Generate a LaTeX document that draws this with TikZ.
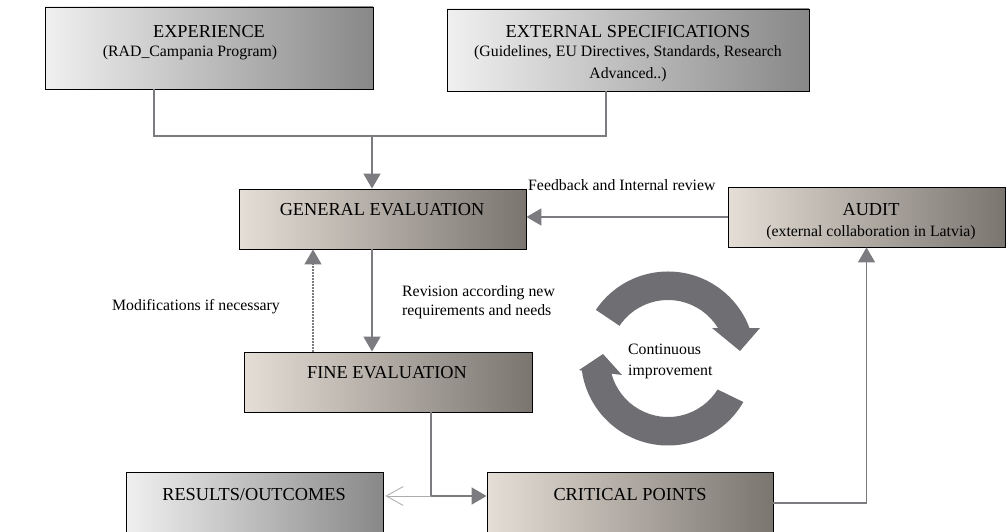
\documentclass[tikz,border=0pt]{standalone}
\usepackage{fontspec}
\setmainfont{Liberation Serif}
\usetikzlibrary{arrows.meta,calc}
\definecolor{gL}{HTML}{F0F0F0}
\definecolor{gR}{HTML}{888888}
\definecolor{wL}{HTML}{E4DED6}
\definecolor{wR}{HTML}{7A756F}
\definecolor{arr}{HTML}{6E6E73}
\definecolor{ln}{HTML}{7C7C80}
\begin{document}
\begin{tikzpicture}[x=1pt,y=1pt,
  box/.style={draw=black, line width=0.9pt, inner sep=0pt},
  graybox/.style={box, left color=gL, right color=gR},
  warmbox/.style={box, left color=wL, right color=wR},
  title/.style={font=\fontsize{18.3}{22}\selectfont, inner sep=0pt},
  sub/.style={font=\fontsize{15.8}{19}\selectfont, inner sep=0pt},
  lbl/.style={font=\fontsize{15.8}{19}\selectfont, inner sep=0pt, anchor=west, align=left},
  conn/.style={draw=ln, line width=1.8pt},
  tip/.style={-{Triangle[width=17pt,length=15pt]}},
]
\path[use as bounding box, fill=white] (0,0) rectangle (1008,531);

% boxes
\node[graybox, minimum width=328pt, minimum height=82pt] (exp) at (209,483) {};
\node[graybox, minimum width=362pt, minimum height=82pt] (ext) at (628,481) {};
\node[warmbox, minimum width=287pt, minimum height=60pt] (ge) at (382.5,312) {};
\node[warmbox, minimum width=277pt, minimum height=60pt] (audit) at (866.5,314) {};
\node[warmbox, minimum width=288pt, minimum height=60pt] (fine) at (388,149) {};
\node[graybox, minimum width=257pt, minimum height=74pt] (res) at (254.5,22) {};
\node[warmbox, minimum width=286pt, minimum height=74pt] (crit) at (630,22) {};

% box texts
\node[title] (expt) at (209,499) {EXPERIENCE};
\node[sub] (exps) at (190,478) {(RAD\_Campania Program)};
\node[title] (extt) at (628,499) {EXTERNAL SPECIFICATIONS};
\node[sub] (exts1) at (628,478) {(Guidelines, EU Directives, Standards, Research};
\node[sub] (exts2) at (628,456) {Advanced..)};
\node[title] (get) at (382,321) {GENERAL EVALUATION};
\node[title] (audt) at (871,321) {AUDIT};
\node[sub] (auds) at (871,298) {(external collaboration in Latvia)};
\node[title] (finet) at (387,158) {FINE EVALUATION};
\node[title] (rest) at (254,36) {RESULTS/OUTCOMES};
\node[title] (critt) at (630,36) {CRITICAL POINTS};

% labels
\node[lbl] (fb) at (528,346) {Feedback and Internal review};
\node[lbl] (mod) at (112,224) {Modifications if necessary};
\node[lbl] (rev) at (402,228.5) {Revision according new\\requirements and needs};
\node[lbl, font=\fontsize{15.8}{21}\selectfont] (ci) at (628,170) {Continuous\\improvement};

% connectors
\coordinate (ja) at (154,395);
\coordinate (jb) at (606,395);
\coordinate (jt) at (372,395);
\draw[conn] (ja |- exp.south) -- (ja) -- (jb) -- (jb |- ext.south);
\draw[conn,tip] (jt) -- (jt |- ge.north);
\draw[conn,tip] (jt |- ge.south) -- (jt |- fine.north);
\coordinate (jd) at (313,0);
\draw[draw=ln, line width=1.3pt, dash pattern=on 1.5pt off 1.5pt, tip] (jd |- fine.north) -- (jd |- ge.south);
\draw[conn,tip] (audit.west) -- (ge.east |- audit.west);
\coordinate (j) at (431,35);
\draw[conn,tip] (j |- fine.south) -- (j) -- (j -| crit.west);
\draw[draw=gray!65, line width=0.8pt, -{Straight Barb[width=19pt,length=17pt]}, shorten >=2pt] (j) -- (j -| res.east);
\coordinate (k) at (867,28);
\draw[conn, line width=1.5pt, tip] (crit.east |- k) -| (audit.south);

% continuous improvement ring
\coordinate (C) at (668,172.5);
\fill[arr] ($(C)+(146:87)$) arc[start angle=146, end angle=20.5, radius=87]
  -- ($(C)+(92,30.5)$) -- ($(C)+(72,7.5)$) -- ($(C)+(44,30.5)$)
  -- ($(C)+(31.4:58.5)$) arc[start angle=31.4, end angle=146, radius=58.5] -- cycle;
\fill[arr] ($(C)+(-30:87)$) arc[start angle=-30, end angle=-172, radius=87]
  -- ($(C)+(-89,-11.5)$) -- ($(C)+(-65,4.5)$) -- ($(C)+(-46,-16.5)$)
  -- ($(C)+(-165:58.5)$) arc[start angle=-165, end angle=-32, radius=58.5] -- cycle;
\end{tikzpicture}
\end{document}
